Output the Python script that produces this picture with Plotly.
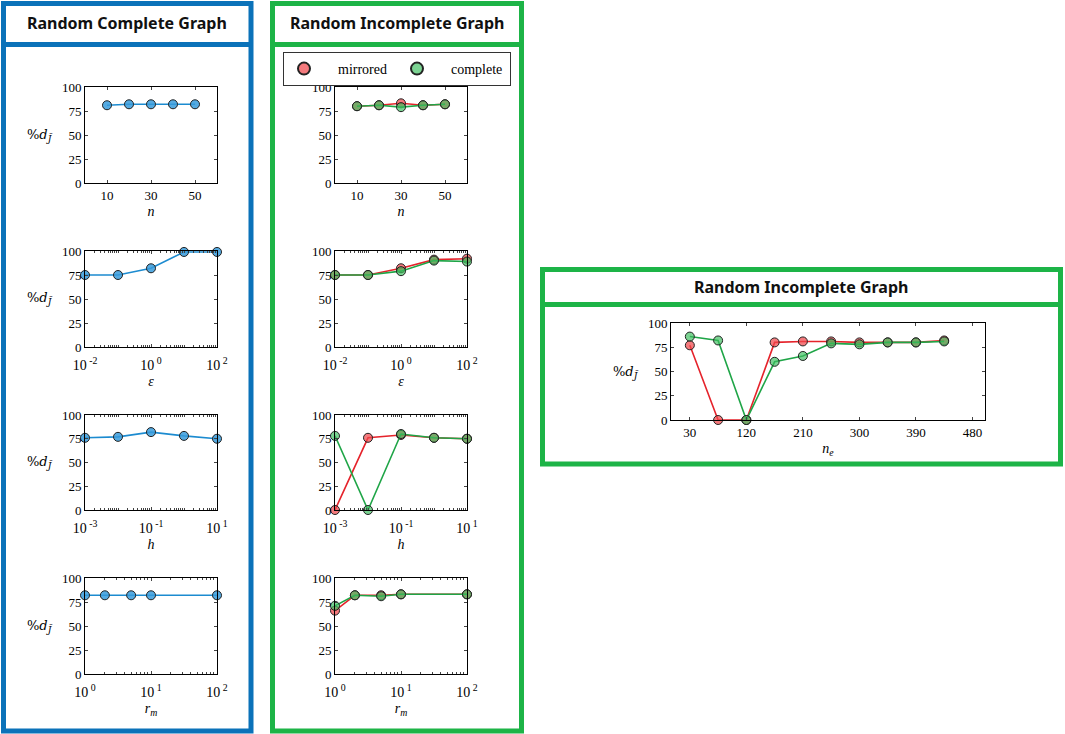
import plotly.graph_objects as go

W, H = 1065, 734

# x values of each sweep
n_vals = [10, 20, 30, 40, 50]
eps_vals = [0.01, 0.1, 1, 10, 100]
h_vals = [0.001, 0.01, 0.1, 1, 10]
rm_vals = [1, 2, 5, 10, 100]
ne_vals = [30, 75, 120, 165, 210, 255, 300, 345, 390, 435]

# random complete graph (%d)
complete_n = [81, 82, 82, 82, 82]
complete_eps = [75, 75, 82, 99, 99]
complete_h = [76, 77, 82, 78, 75]
complete_rm = [82, 82, 82, 82, 82]

# random incomplete graph: mirrored / complete
mirr_n = [80, 81, 83, 81, 82]
comp_n = [80, 81, 79, 81, 82]
mirr_eps = [75, 75, 82, 91, 92]
comp_eps = [75, 75, 79, 90, 89]
mirr_h = [0, 76, 79, 76, 75]
comp_h = [78, 0, 80, 76, 75]
mirr_rm = [66, 82, 82, 83, 83]
comp_rm = [71, 82, 81, 83, 83]
mirr_ne = [77, 0, 0, 80, 81, 81, 80, 80, 80, 82]
comp_ne = [86, 82, 0, 60, 66, 79, 78, 80, 80, 81]

BLUE = "#0b72b9"
GREEN = "#1db447"
SERIF = "Liberation Serif"

fig = go.Figure()


def dom(x0, x1, y0, y1):
    return [x0 / W, x1 / W], [1 - y1 / H, 1 - y0 / H]


def sup(e):
    return "10<sup> %d</sup>" % e


# (axis index, pixel box of plot area, which sweep)
panels = [
    (1, (85, 217, 87, 183), "n"),
    (2, (85, 217, 251, 347), "eps"),
    (3, (85, 217, 415, 510), "h"),
    (4, (85, 217, 578, 674), "rm"),
    (5, (335, 467, 87, 183), "n"),
    (6, (335, 467, 251, 347), "eps"),
    (7, (335, 467, 415, 510), "h"),
    (8, (335, 467, 578, 674), "rm"),
    (9, (671, 985, 323, 420), "ne"),
]

xsets = {
    "n": dict(type="linear", range=[0, 60], tickvals=[10, 30, 50],
              title="<i>n</i>"),
    "eps": dict(type="log", range=[-2, 2], tickvals=[0.01, 1, 100],
                ticktext=[sup(-2), sup(0), sup(2)], title="<i>ε</i>"),
    "h": dict(type="log", range=[-3, 1], tickvals=[0.001, 0.1, 10],
              ticktext=[sup(-3), sup(-1), sup(1)], title="<i>h</i>"),
    "rm": dict(type="log", range=[0, 2], tickvals=[1, 10, 100],
               ticktext=[sup(0), sup(1), sup(2)], title="<i>r<sub>m</sub></i>"),
    "ne": dict(type="linear", range=[0, 500],
               tickvals=[30, 120, 210, 300, 390, 480], title="<i>n<sub>e</sub></i>"),
}

xdata = {"n": n_vals, "eps": eps_vals, "h": h_vals, "rm": rm_vals, "ne": ne_vals}

layout_axes = {}
for i, (x0, x1, y0, y1), key in panels:
    xd, yd = dom(x0, x1, y0, y1)
    s = xsets[key]
    xa = dict(domain=xd, anchor="y%d" % i, type=s["type"], range=s["range"],
              tickvals=s["tickvals"], showline=True, linecolor="black",
              linewidth=1, mirror="allticks", ticks="inside", ticklen=3,
              showgrid=False, zeroline=False, automargin=False,
              tickfont=dict(family=SERIF, size=13, color="black"),
              title=dict(text=s["title"], standoff=4,
                         font=dict(family=SERIF, size=14, color="black")))
    if "ticktext" in s:
        xa["ticktext"] = s["ticktext"]
        xa["ticklabelstandoff"] = 5
        xa["tickfont"] = dict(family=SERIF, size=14, color="black")
        xa["minor"] = dict(ticks="inside", ticklen=2, dtick="D1", showgrid=False)
    ya = dict(domain=yd, anchor="x%d" % i, range=[0, 100],
              tickvals=[0, 25, 50, 75, 100], showline=True, linecolor="black",
              linewidth=1, mirror="allticks", ticks="inside", ticklen=3,
              showgrid=False, zeroline=False, automargin=False,
              tickfont=dict(family=SERIF, size=13, color="black"))
    sfx = "" if i == 1 else str(i)
    layout_axes["xaxis" + sfx] = xa
    layout_axes["yaxis" + sfx] = ya


def add_line(i, x, y, line_col, fill):
    fig.add_trace(go.Scatter(
        x=x, y=y, mode="lines+markers", xaxis="x%d" % i, yaxis="y%d" % i,
        line=dict(color=line_col, width=1.6),
        marker=dict(size=9, color=fill, line=dict(color="#222222", width=1)),
        cliponaxis=False, showlegend=False))


RED_L, RED_F = "#e5232b", "rgba(240,70,75,0.72)"
GRN_L, GRN_F = "#1fa547", "rgba(60,190,95,0.68)"
BLU_L, BLU_F = "#1c8bd0", "rgba(55,155,220,0.85)"

add_line(1, n_vals, complete_n, BLU_L, BLU_F)
add_line(2, eps_vals, complete_eps, BLU_L, BLU_F)
add_line(3, h_vals, complete_h, BLU_L, BLU_F)
add_line(4, rm_vals, complete_rm, BLU_L, BLU_F)

for i, key, m, c in [(5, "n", mirr_n, comp_n), (6, "eps", mirr_eps, comp_eps),
                     (7, "h", mirr_h, comp_h), (8, "rm", mirr_rm, comp_rm),
                     (9, "ne", mirr_ne, comp_ne)]:
    add_line(i, xdata[key], m, RED_L, RED_F)
    add_line(i, xdata[key], c, GRN_L, GRN_F)

# legend entries (marker only)
for name, fill in [("&nbsp;&nbsp;&nbsp;&nbsp;mirrored", RED_F),
                   ("&nbsp;&nbsp;&nbsp;&nbsp;complete", GRN_F)]:
    fig.add_trace(go.Scatter(x=[None], y=[None], mode="markers", name=name,
                             xaxis="x5", yaxis="y5",
                             marker=dict(size=11, color=fill,
                                         line=dict(color="#222222", width=1))))

# frames around the groups
shapes = []


def frame(x0, y0, x1, y1, sep, col):
    shapes.append(dict(type="rect", xref="paper", yref="paper",
                       x0=x0 / W, x1=x1 / W, y0=1 - y1 / H, y1=1 - y0 / H,
                       line=dict(color=col, width=5), fillcolor="rgba(0,0,0,0)"))
    shapes.append(dict(type="rect", xref="paper", yref="paper",
                       x0=x0 / W, x1=x1 / W, y0=1 - (sep + 2.5) / H,
                       y1=1 - (sep - 2.5) / H, line=dict(width=0), fillcolor=col))


frame(3.5, 3.5, 251, 731, 44.5, BLUE)
frame(272.5, 3.5, 521.5, 731, 44.5, GREEN)
frame(542.5, 269.5, 1060.5, 464, 304.5, GREEN)

annots = []
for cx, cy, txt in [(127, 23, "Random Complete Graph"),
                    (397, 23, "Random Incomplete Graph"),
                    (801, 287, "Random Incomplete Graph")]:
    annots.append(dict(x=cx / W, y=1 - cy / H, xref="paper", yref="paper",
                       xanchor="center", yanchor="middle",
                       text="<b>%s</b>" % txt, showarrow=False,
                       font=dict(family="Noto Sans", size=16, color="#111111")))

ylab = "%<i>d</i><sub><i>J̃</i></sub>"
for cx, cy in [(40, 136), (40, 298), (40, 462), (40, 626), (626, 372)]:
    annots.append(dict(x=cx / W, y=1 - cy / H, xref="paper", yref="paper",
                       xanchor="center", yanchor="middle",
                       text=ylab, showarrow=False,
                       font=dict(family="DejaVu Serif", size=13, color="black")))

fig.update_layout(
    width=W, height=H, margin=dict(l=0, r=0, t=0, b=0, autoexpand=False),
    paper_bgcolor="white", plot_bgcolor="white",
    shapes=shapes, annotations=annots,
    legend=dict(orientation="h", x=283 / W, y=1 - 52 / H, xanchor="left",
                yanchor="top", bordercolor="#333333", borderwidth=1,
                entrywidth=68, font=dict(family=SERIF, size=14, color="black"),
                itemsizing="constant"),
    **layout_axes,
)

# page body has a default 8px margin; drop it so the figure fills the window
fig.write_html("out.html", config={"displayModeBar": False},
               post_script="document.body.style.margin='0px';")
